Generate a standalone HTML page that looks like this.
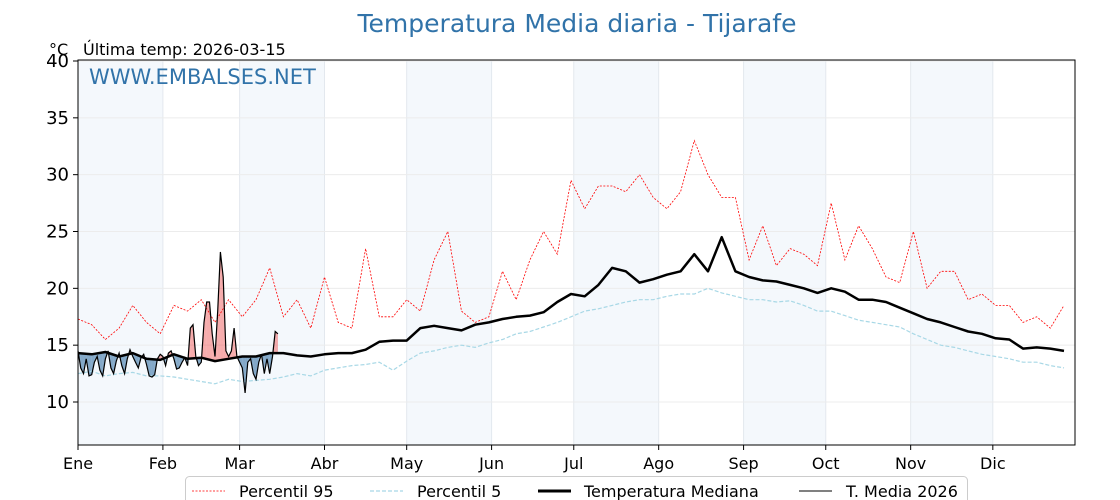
<!DOCTYPE html>
<html><head><meta charset="utf-8">
<style>
body{margin:0;background:#fff;}
svg{display:block;font-family:"DejaVu Sans","Liberation Sans",sans-serif;}
</style></head>
<body>
<svg id="chart" width="1120" height="500" viewBox="0 0 1120 500" xmlns="http://www.w3.org/2000/svg">
<text x="577" y="32" text-anchor="middle" font-size="25" fill="#3173a9">Temperatura Media diaria - Tijarafe</text>
<text x="49" y="55" font-size="16" fill="#000">°C</text>
<text x="83" y="55" font-size="16" fill="#000">Última temp: 2026-03-15</text>
<g id="bands"></g><g id="grid"></g><g id="fills"></g><g id="lines"></g>
<text x="89" y="84" font-size="21" fill="#3173a9">WWW.EMBALSES.NET</text>
<rect x="78" y="60" width="997" height="385" fill="none" stroke="#000" stroke-width="1"/>
<g id="axes"></g>
<g id="legend">
<rect x="185.5" y="476.5" width="782" height="34" rx="4" fill="#fff" stroke="#ccc"/>
<line x1="192" y1="491" x2="225" y2="491" stroke="red" stroke-width="0.8" stroke-dasharray="2,1.5"/>
<text x="239" y="497" font-size="16">Percentil 95</text>
<line x1="370" y1="491" x2="403" y2="491" stroke="#a8d8e6" stroke-width="1.2" stroke-dasharray="4,2"/>
<text x="417" y="497" font-size="16">Percentil 5</text>
<line x1="538" y1="491" x2="571" y2="491" stroke="#000" stroke-width="3"/>
<text x="584" y="497" font-size="16">Temperatura Mediana</text>
<line x1="799" y1="491" x2="832" y2="491" stroke="#000" stroke-width="1"/>
<text x="846" y="497" font-size="16">T. Media 2026</text>
</g>
</svg>
<script>
const months = ["Ene","Feb","Mar","Abr","May","Jun","Jul","Ago","Sep","Oct","Nov","Dic"];
const monthStart = [0,31,59,90,120,151,181,212,243,273,304,334];
const yTicks = [10,15,20,25,30,35,40];
const step = 5;
const p95 = [17.3,16.8,15.5,16.5,18.5,17.0,16.0,18.5,18.0,19.0,17.0,19.0,17.5,19.0,21.8,17.5,19.0,16.5,21.0,17.0,16.5,23.5,17.5,17.5,19.0,18.0,22.5,25.0,18.0,17.0,17.5,21.5,19.0,22.5,25.0,23.0,29.5,27.0,29.0,29.0,28.5,30.0,28.0,27.0,28.5,33.0,30.0,28.0,28.0,22.5,25.5,22.0,23.5,23.0,22.0,27.5,22.5,25.5,23.5,21.0,20.5,25.0,20.0,21.5,21.5,19.0,19.5,18.5,18.5,17.0,17.5,16.5,18.5];
const median = [14.3,14.2,14.4,14.0,14.3,13.8,13.7,14.2,13.8,13.9,13.6,13.8,14.0,14.0,14.3,14.3,14.1,14.0,14.2,14.3,14.3,14.6,15.3,15.4,15.4,16.5,16.7,16.5,16.3,16.8,17.0,17.3,17.5,17.6,17.9,18.8,19.5,19.3,20.3,21.8,21.5,20.5,20.8,21.2,21.5,23.0,21.5,24.5,21.5,21.0,20.7,20.6,20.3,20.0,19.6,20.0,19.7,19.0,19.0,18.8,18.3,17.8,17.3,17.0,16.6,16.2,16.0,15.6,15.5,14.7,14.8,14.7,14.5];
const p5 = [12.5,12.7,12.3,12.5,12.6,12.3,12.3,12.2,12.0,11.8,11.6,12.0,11.8,11.9,12.0,12.2,12.5,12.3,12.8,13.0,13.2,13.3,13.5,12.8,13.6,14.3,14.5,14.8,15.0,14.8,15.2,15.5,16.0,16.2,16.6,17.0,17.5,18.0,18.2,18.5,18.8,19.0,19.0,19.3,19.5,19.5,20.0,19.6,19.3,19.0,19.0,18.8,18.9,18.5,18.0,18.0,17.6,17.2,17.0,16.8,16.6,16.0,15.5,15.0,14.8,14.5,14.2,14.0,13.8,13.5,13.5,13.2,13.0];
const t2026 = [14.5,13.0,12.5,13.8,12.3,12.4,13.5,14.0,12.8,12.3,13.8,14.5,13.0,12.5,13.6,14.3,13.2,12.5,13.8,14.6,14.0,13.5,13.0,13.9,14.2,13.3,12.3,12.2,12.4,13.8,14.2,14.0,13.2,14.3,14.5,13.8,12.9,13.0,13.5,13.9,13.2,16.5,16.8,14.0,13.2,13.5,17.0,18.8,18.8,16.0,14.0,18.0,23.2,21.0,14.5,14.0,14.5,16.5,14.0,13.5,13.0,10.8,13.5,13.8,12.5,12.0,13.5,14.2,12.5,13.8,12.5,14.0,16.2,16.0];

const X0=78,X1=1075,XMAX=364;
const xs=d=>X0+(X1-X0)*d/XMAX;
const ys=v=>61+(40-v)*(402-61)/30;
const NS="http://www.w3.org/2000/svg";
function mk(tag,parent,attrs){const e=document.createElementNS(NS,tag);for(const k in attrs)e.setAttribute(k,attrs[k]);document.getElementById(parent).appendChild(e);return e;}
monthStart.forEach((m,i)=>{
  const end=i<11?monthStart[i+1]:XMAX;
  if(i%2===0){const r=mk("rect","bands",{x:xs(m),y:60,width:xs(end)-xs(m),height:385,fill:"#f4f8fc"});
    
    }
  const g=mk("line","grid",{x1:xs(m),x2:xs(m),y1:60,y2:445,stroke:"#e3e8ee","stroke-width":1});
  
  
  const t=mk("line","axes",{x1:xs(m),x2:xs(m),y1:445,y2:450,stroke:"#000"});
  
  
  const l=mk("text","axes",{x:xs(m),y:469,"text-anchor":"middle","font-size":16});
  l.textContent=months[i];
  
  
});
yTicks.forEach(v=>{
  const g=mk("line","grid",{x1:X0,x2:X1,y1:ys(v),y2:ys(v),stroke:"#ececec","stroke-width":1});
  
  
  const t=mk("line","axes",{x1:X0-5,x2:X0,y1:ys(v),y2:ys(v),stroke:"#000"});
  
  
  const l=mk("text","axes",{x:X0-9,y:ys(v)+6,"text-anchor":"end","font-size":18});
  l.textContent=v;
  
  
});
const pts=arr=>arr.map((v,i)=>xs(Math.min(i*step,XMAX)).toFixed(1)+","+ys(v).toFixed(1)).join(" ");
const medAt=d=>{const i=Math.floor(d/step),f=(d-i*step)/step;return median[i]+(median[Math.min(i+1,median.length-1)]-median[i])*f;};
for(let d=0;d<t2026.length-1;d++){
  const a=t2026[d]-medAt(d),b=t2026[d+1]-medAt(d+1);
  const segs=[];
  if(a*b<0){const c=d+a/(a-b);segs.push([d,c,a>0]);segs.push([c,d+1,b>0]);}else segs.push([d,d+1,(a+b)>0]);
  segs.forEach(([s,e,up])=>{
    const tv=x=>t2026[d]+(t2026[d+1]-t2026[d])*(x-d);
    const p=[[s,tv(s)],[e,tv(e)],[e,medAt(e)],[s,medAt(s)]].map(q=>xs(q[0]).toFixed(2)+","+ys(q[1]).toFixed(2)).join(" ");
    const f=mk("polygon","fills",{points:p,fill:up?"rgba(238,90,90,0.5)":"rgba(55,115,165,0.6)"});
    
    
  });
}
const lp95=mk("polyline","lines",{points:pts(p95),fill:"none",stroke:"red","stroke-width":0.8,"stroke-dasharray":"2,1.5"});


const lp5=mk("polyline","lines",{points:pts(p5),fill:"none",stroke:"#a8d8e6","stroke-width":1.2,"stroke-dasharray":"4,2"});


const lmed=mk("polyline","lines",{points:pts(median),fill:"none",stroke:"#000","stroke-width":2.5,"stroke-linejoin":"round"});


const l26=mk("polyline","lines",{points:t2026.map((v,i)=>xs(i).toFixed(1)+","+ys(v).toFixed(1)).join(" "),fill:"none",stroke:"#000","stroke-width":1.2});


</script>
</body></html>
